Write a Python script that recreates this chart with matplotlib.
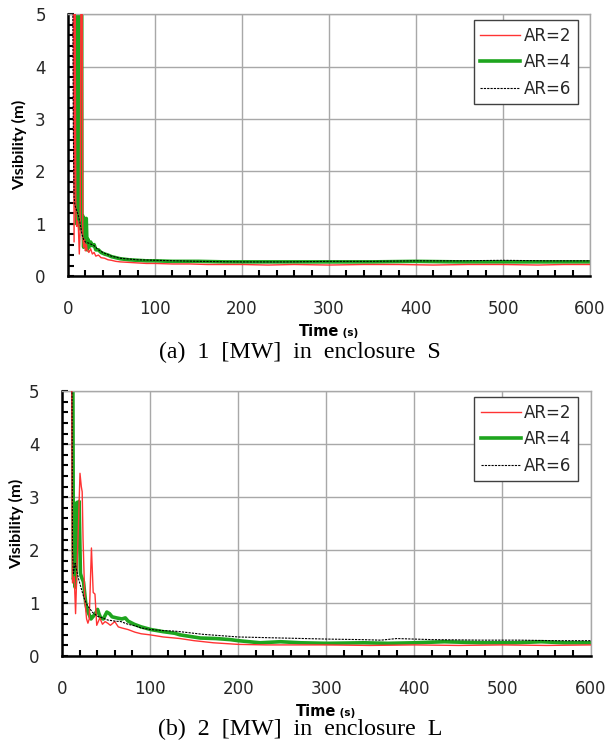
"""Visibility vs time for three aspect ratios, two fire cases."""

import matplotlib
matplotlib.use("Agg")
from matplotlib import pyplot as plt
from matplotlib.ticker import MultipleLocator

# (a) 1 MW in enclosure S
time_a_ar2 = [5, 6, 7, 8, 9, 10, 11, 12, 13, 14, 15, 16, 17, 18, 19, 20, 21, 22, 24, 26,
              28, 30, 32, 35, 38, 42, 46, 50, 55, 60, 70, 80, 90, 100, 120, 140, 160, 180, 200, 230,
              260, 300, 340, 380, 420, 460, 500, 540, 570, 600]
vis_a_ar2 = [8.0, 7.0, 0.65, 6.0, 1.3, 0.95, 1.05, 0.9, 0.42, 0.85, 6.0, 7.0, 0.75, 0.55, 0.7, 0.48, 0.6, 0.5, 0.45, 0.52,
             0.42, 0.45, 0.38, 0.4, 0.35, 0.34, 0.31, 0.3, 0.28, 0.27, 0.26, 0.25, 0.24, 0.24, 0.23, 0.23, 0.22, 0.22, 0.22, 0.21,
             0.22, 0.21, 0.22, 0.22, 0.21, 0.22, 0.22, 0.21, 0.22, 0.22]

time_a_ar4 = [9, 10, 10.5, 11, 11.5, 12, 12.5, 13, 13.5, 14, 14.5, 15, 15.5, 16, 17, 18, 19, 20, 21, 22,
              23, 24, 26, 28, 30, 32, 35, 38, 42, 46, 50, 55, 60, 70, 80, 90, 100, 120, 150, 180,
              210, 250, 300, 350, 400, 450, 500, 550, 600]
vis_a_ar4 = [8.0, 1.0, 8.0, 1.2, 8.0, 1.3, 8.0, 1.0, 8.0, 0.9, 8.0, 1.1, 8.0, 1.0, 1.15, 0.55, 1.1, 0.6, 1.1, 0.5,
             0.7, 0.55, 0.65, 0.58, 0.6, 0.5, 0.5, 0.45, 0.42, 0.4, 0.37, 0.35, 0.33, 0.31, 0.3, 0.29, 0.29, 0.28, 0.28, 0.27,
             0.27, 0.27, 0.27, 0.27, 0.28, 0.27, 0.27, 0.27, 0.27]

time_a_ar6 = [5, 6, 7, 8, 10, 12, 14, 16, 18, 20, 25, 30, 35, 40, 50, 60, 80, 100, 150, 200,
              250, 300, 350, 400, 450, 500, 550, 600]
vis_a_ar6 = [8.0, 3.0, 1.5, 1.35, 1.25, 1.15, 1.0, 0.8, 0.7, 0.65, 0.62, 0.58, 0.5, 0.45, 0.38, 0.34, 0.31, 0.3, 0.28, 0.27,
             0.27, 0.28, 0.28, 0.29, 0.29, 0.3, 0.29, 0.29]

# (b) 2 MW in enclosure L
time_b_ar2 = [10, 11, 12, 14, 15.5, 17, 19, 20.5, 22, 23, 24, 26, 28, 29.5, 31, 33.5, 35.5, 37.5, 39.5, 43,
              46, 49, 52, 55, 60, 64, 68, 75, 83, 90, 100, 115, 128, 134, 150, 172, 200, 232, 260, 300,
              350, 400, 450, 500, 550, 600]
vis_b_ar2 = [8.0, 5.5, 1.38, 1.5, 0.8, 1.6, 2.6, 3.45, 3.2, 3.1, 2.2, 1.05, 0.7, 0.62, 0.7, 2.04, 1.2, 1.17, 0.58, 0.72,
             0.6, 0.65, 0.62, 0.58, 0.65, 0.55, 0.53, 0.5, 0.45, 0.42, 0.4, 0.36, 0.34, 0.33, 0.29, 0.25, 0.22, 0.21, 0.21, 0.21,
             0.2, 0.21, 0.2, 0.21, 0.2, 0.21]

time_b_ar4 = [12, 13, 14, 15, 16, 17, 18, 19.5, 21, 22, 24.5, 27, 29, 31, 33, 35, 38, 40.5, 42, 44,
              47, 51, 54, 57, 62, 68, 72, 75, 82, 90, 101, 115, 128, 134, 157, 175, 191, 200, 225, 248,
              271, 301, 343, 370, 400, 434, 476, 514, 544, 570, 600]
vis_b_ar4 = [8.0, 1.45, 1.5, 1.3, 1.6, 2.9, 2.6, 2.92, 1.56, 1.5, 1.4, 1.0, 0.85, 0.78, 0.7, 0.74, 0.8, 0.88, 0.8, 0.72,
             0.7, 0.83, 0.8, 0.74, 0.72, 0.7, 0.72, 0.66, 0.6, 0.55, 0.5, 0.46, 0.43, 0.4, 0.34, 0.33, 0.31, 0.29, 0.25, 0.27,
             0.25, 0.24, 0.25, 0.24, 0.25, 0.27, 0.25, 0.25, 0.27, 0.25, 0.25]

time_b_ar6 = [11, 12, 13, 15, 17, 19, 21.5, 25, 29, 35, 40.5, 46, 52, 60, 67, 75, 83, 90, 101, 115,
              128, 134, 160, 200, 250, 301, 340, 362, 380, 420, 476, 520, 560, 600]
vis_b_ar6 = [8.0, 2.0, 1.56, 1.75, 1.6, 1.45, 1.3, 1.1, 0.95, 0.82, 0.75, 0.72, 0.68, 0.66, 0.65, 0.6, 0.57, 0.53, 0.5, 0.48,
             0.47, 0.46, 0.41, 0.36, 0.34, 0.32, 0.31, 0.3, 0.33, 0.31, 0.3, 0.3, 0.29, 0.29]

series_labels = ["AR=2", "AR=4", "AR=6"]

RED = "#ff3333"
GREEN = "#1ea51e"
GRID = "#a8a8a8"
TICK_COLOR = "#262626"


def draw_panel(axis, ar2, ar4, ar6):
    """Draw the three visibility curves with the Excel-like styling."""
    axis.plot(*ar2, color=RED, linewidth=1.0, label=series_labels[0], zorder=3)
    axis.plot(*ar4, color=GREEN, linewidth=2.6, label=series_labels[1], zorder=2)
    axis.plot(*ar6, color="black", linewidth=0.8, linestyle=(0, (2, 1)),
              label=series_labels[2], zorder=4)

    axis.set_xlim(0, 600)
    axis.set_ylim(0, 5)
    axis.xaxis.set_major_locator(MultipleLocator(100))
    axis.xaxis.set_minor_locator(MultipleLocator(20))
    axis.yaxis.set_major_locator(MultipleLocator(1))
    axis.yaxis.set_minor_locator(MultipleLocator(0.2))
    axis.grid(True, which="major", color=GRID, linewidth=1.0)
    axis.set_axisbelow(True)

    axis.tick_params(which="both", direction="in", length=4, width=1.5,
                     colors="black", labelcolor=TICK_COLOR, labelsize=12)
    axis.tick_params(axis="x", which="major", length=0, pad=17)
    axis.tick_params(axis="y", which="major", pad=16)

    for side in ("left", "bottom"):
        axis.spines[side].set_linewidth(1.8)
    for side in ("top", "right"):
        axis.spines[side].set_color(GRID)
        axis.spines[side].set_linewidth(1.0)

    legend = axis.legend(loc="upper right", bbox_to_anchor=(0.977, 0.977),
                         borderaxespad=0.0, fontsize=12, handlelength=2.4,
                         handletextpad=0.2, labelspacing=0.5, borderpad=0.4,
                         fancybox=False, framealpha=1.0, edgecolor="#404040")
    legend.get_frame().set_linewidth(1.0)
    for text in legend.get_texts():
        text.set_color(TICK_COLOR)


figure = plt.figure(figsize=(6.07, 7.46), dpi=100)
axis_a = figure.add_axes([0.112, 0.630, 0.860, 0.351])
axis_b = figure.add_axes([0.102, 0.1206, 0.871, 0.355])

draw_panel(axis_a, (time_a_ar2, vis_a_ar2), (time_a_ar4, vis_a_ar4), (time_a_ar6, vis_a_ar6))
draw_panel(axis_b, (time_b_ar2, vis_b_ar2), (time_b_ar4, vis_b_ar4), (time_b_ar6, vis_b_ar6))

captions = ["(a)  1  [MW]  in  enclosure  S", "(b)  2  [MW]  in  enclosure  L"]

# Axis titles and sub-figure captions placed in pixel terms of the figure.
for axis, ylabel_x, time_y, caption_y, caption in (
    (axis_a, 20, 336, 352, captions[0]),
    (axis_b, 17, 716, 729, captions[1]),
):
    box = axis.get_position()
    center_x = (box.x0 + box.x1) / 2
    center_y = (box.y0 + box.y1) / 2
    figure.text(ylabel_x / 607, center_y, "Visibility (m)", rotation=90,
                ha="center", va="center", fontsize=11.8, family="Lato",
                fontweight="bold", color="black")
    split_x = center_x + 10 / 607
    figure.text(split_x, 1 - time_y / 746, "Time", ha="right", va="baseline",
                fontsize=10.5, family="DejaVu Sans", fontweight="bold")
    figure.text(split_x, 1 - time_y / 746, " (s)", ha="left", va="baseline",
                fontsize=7.5, family="DejaVu Sans", fontweight="bold")
    figure.text(0.494, 1 - caption_y / 746, caption, ha="center", va="center",
                fontsize=17.2, family="Liberation Serif", color="black")

figure.savefig("out.png", dpi=100)
plt.close(figure)
